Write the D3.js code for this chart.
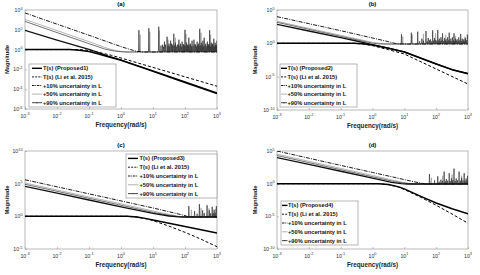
<!DOCTYPE html>
<html><head><meta charset="utf-8">
<script src="https://cdn.jsdelivr.net/npm/d3@7"></script>
<style>body{margin:0;background:#fff}svg{display:block}text{font-family:"Liberation Sans",Arial,sans-serif}</style>
</head><body><svg id="c" width="480" height="275"></svg>
<script>
// ---------- DATA (log10 frequency, log10 magnitude) ----------
const panelTitles = ["(a)", "(b)", "(c)", "(d)"];
const xTickExps = [-3, -2, -1, 0, 1, 2, 3];
const yTickExpsA = [-6, -4, -2, 0, 2, 4];
const yTickExpsB = [-10, -5, 0, 5];
const yTickExpsC = [-5, 0, 5, 10];
const yTickExpsD = [-10, -5, 0, 5];
const legendA = ["T(s) (Proposed1)", "T(s) (Li et al. 2015)", "+10% uncertainty in L", "+50% uncertainty in L", "+90% uncertainty in L"];
const legendB = ["T(s) (Proposed2)", "T(s) (Li et al. 2015)", "+10% uncertainty in L", "+50% uncertainty in L", "+90% uncertainty in L"];
const legendC = ["T(s) (Proposed3)", "T(s) (Li et al. 2015)", "+10% uncertainty in L", "+50% uncertainty in L", "+90% uncertainty in L"];
const legendD = ["T(s) (Proposed4)", "T(s) (Li et al. 2015)", "+10% uncertainty in L", "+50% uncertainty in L", "+90% uncertainty in L"];

// Panel (a)
const propA = [[-3,0],[-1.6,0],[-1.3,-0.06],[-1,-0.2],[-0.7,-0.45],[-0.4,-0.72],[0,-1.08],[1,-2.2],[2,-3.32],[3,-4.45]];
const liA   = [[-3,0],[-1.3,0],[-1,-0.08],[-0.7,-0.28],[-0.3,-0.58],[0,-0.85],[1,-1.8],[2,-2.75],[3,-3.7]];
const loopA = [[-3,1.95],[-2,0.95],[-1.3,0.3],[-1,0.02],[-0.7,-0.3],[-0.4,-0.65],[0,-1.05],[1,-2.15],[2,-3.26],[3,-4.38]];
const unc10A = [[-3,3.7],[-2,2.57],[-1,1.45],[0,0.3],[0.3,0.0],[0.5,-0.18],[0.7,-0.24],[3,-0.24]];
const unc50A = [[-3,3.05],[-2,1.92],[-1,0.8],[-0.4,0.1],[-0.1,-0.15],[0.2,-0.24],[3,-0.24]];
const unc90A = [[-3,2.85],[-2,1.72],[-1,0.6],[-0.5,0.05],[-0.2,-0.15],[0.1,-0.24],[3,-0.24]];
const peaks50A = [[0.6,1.5],[0.9,1.8],[1.2,1.9],[1.47,1.0],[1.7,1.2],[2.03,1.6],[2.5,1.7],[2.8,1.5]];
const peaks90A = [[0.56,1.96],[0.87,2.16],[1.18,2.3],[1.3,0.5],[1.36,0.8],[1.44,1.3],[1.5,0.6],[1.55,0.9],[1.6,0.5],[1.65,1.6],[1.7,0.7],[1.76,0.5],[1.81,1.0],[1.86,0.6],[1.91,0.8],[1.96,0.5],[2.0,2.0],[2.05,0.7],[2.09,0.5],[2.12,1.2],[2.17,0.6],[2.22,0.9],[2.28,1.0],[2.33,0.5],[2.38,0.8],[2.42,0.6],[2.46,2.1],[2.51,0.7],[2.56,0.9],[2.6,1.2],[2.65,0.6],[2.7,0.8],[2.74,0.5],[2.77,1.95],[2.82,0.7],[2.86,0.6],[2.9,1.1],[2.94,0.7],[2.97,0.5],[3.0,0.9],
  [1.25,0.4],[1.33,0.3],[1.39,0.5],[1.47,0.4],[1.52,0.3],[1.58,0.6],[1.62,0.35],[1.68,0.45],[1.73,0.3],[1.79,0.5],[1.84,0.4],[1.89,0.3],[1.94,0.55],[1.98,0.4],[2.03,0.35],[2.07,0.45],[2.11,0.3],[2.15,0.5],[2.2,0.35],[2.25,0.4],[2.31,0.55],[2.36,0.3],[2.4,0.45],[2.44,0.35],[2.49,0.4],[2.54,0.5],[2.58,0.3],[2.63,0.45],[2.68,0.35],[2.72,0.55],[2.76,0.4],[2.8,0.3],[2.84,0.5],[2.88,0.4],[2.92,0.3],[2.96,0.45],[2.99,0.35]];

// Panel (b)
const propB = [[-3,0],[-0.6,0],[-0.3,-0.05],[0,-0.25],[0.5,-0.75],[1,-1.3],[1.5,-2.2],[2,-3.1],[2.5,-3.95],[3,-4.55]];
const liB   = [[-3,0],[-0.6,0],[-0.3,-0.1],[0,-0.35],[0.5,-0.95],[1,-1.6],[2,-3.85],[3,-6.1]];
const loopB = [[-3,2.85],[-2,1.85],[-1,0.85],[-0.5,0.35],[0,-0.2],[0.5,-0.73],[1,-1.28],[1.5,-2.18],[2,-3.08],[2.5,-3.93],[3,-4.53]];
const unc10B = [[-3,4.0],[-2,2.95],[-1,1.9],[0,0.8],[0.5,0.25],[0.7,0.0],[0.85,-0.1],[3,-0.1]];
const unc50B = [[-3,3.3],[-2,2.25],[-1,1.2],[0,0.15],[0.3,-0.05],[0.5,-0.1],[3,-0.1]];
const unc90B = [[-3,3.15],[-2,2.1],[-1,1.05],[0,0.02],[0.2,-0.08],[0.4,-0.1],[3,-0.1]];
const peaks50B = [[0.95,1.0],[1.25,1.3],[1.6,1.4],[1.98,1.5],[2.3,1.2],[2.6,1.1],[2.9,1.0]];
const peaks90B = [[0.91,1.35],[1.22,1.6],[1.42,1.75],[1.55,0.7],[1.68,1.85],[1.75,0.8],[1.82,0.6],[1.89,1.95],[1.95,0.8],[2.05,2.0],[2.1,0.7],[2.15,0.9],[2.2,1.5],[2.26,0.8],[2.31,0.6],[2.36,0.9],[2.41,1.6],[2.46,0.7],[2.51,0.9],[2.56,1.5],[2.61,0.7],[2.66,0.6],[2.71,0.9],[2.77,1.4],[2.82,0.7],[2.87,0.6],[2.92,0.8],[2.98,1.3],
  [1.48,0.3],[1.6,0.4],[1.72,0.3],[1.79,0.45],[1.86,0.3],[1.92,0.4],[1.99,0.5],[2.02,0.3],[2.08,0.4],[2.13,0.3],[2.18,0.45],[2.23,0.35],[2.29,0.4],[2.34,0.3],[2.39,0.45],[2.44,0.35],[2.49,0.3],[2.54,0.45],[2.59,0.35],[2.64,0.4],[2.69,0.3],[2.74,0.45],[2.8,0.35],[2.85,0.4],[2.9,0.3],[2.95,0.45]];

// Panel (c)
const propC = [[-3,0],[0.2,0],[0.5,-0.1],[0.8,-0.35],[1,-0.55],[1.5,-1.05],[2,-1.55],[2.5,-2.05],[3,-2.55]];
const liC   = [[-3,0],[0.2,0],[0.5,-0.12],[0.8,-0.4],[1,-0.65],[1.5,-1.5],[2,-2.45],[2.5,-3.5],[3,-4.65]];
const loopC = [[-3,4.6],[-2,3.55],[-1,2.5],[0,1.45],[1,0.45],[1.5,0.05],[1.8,-0.08],[2.0,-0.1],[3,-0.1]];
const unc10C = [[-3,5.6],[-2,4.52],[-1,3.44],[0,2.36],[1,1.28],[1.5,0.7],[1.8,0.35],[2.0,0.12],[2.1,-0.1],[3,-0.1]];
const unc50C = [[-3,5.1],[-2,4.03],[-1,2.96],[0,1.9],[1,0.82],[1.5,0.3],[1.8,0.0],[2.0,-0.1],[3,-0.1]];
const unc90C = [[-3,4.9],[-2,3.83],[-1,2.76],[0,1.7],[1,0.62],[1.5,0.15],[1.8,-0.05],[1.95,-0.1],[3,-0.1]];
const peaks50C = [[2.2,1.0],[2.5,1.3],[2.75,1.2],[2.95,1.1]];
const peaks90C = [[2.12,1.56],[2.3,0.8],[2.45,1.85],[2.55,0.9],[2.69,1.7],[2.76,0.9],[2.85,1.46],[2.91,1.0],[2.98,1.55],
  [2.38,0.4],[2.6,0.5],[2.8,0.45],[2.88,0.5],[2.94,0.55]];

// Panel (d)
const propD = [[-3,0],[0.2,0],[0.5,-0.12],[0.8,-0.45],[1,-0.8],[1.5,-1.9],[2,-2.95],[2.5,-3.85],[3,-4.6]];
const liD   = [[-3,0],[0.2,0],[0.5,-0.15],[0.8,-0.5],[1,-0.9],[1.5,-2.05],[2,-3.3],[2.5,-4.65],[3,-6.05]];
const loopD = [[-3,4.0],[-2,2.95],[-1,1.9],[0,0.85],[0.6,0.2],[0.9,0.0],[1.1,-0.05],[3,-0.05]];
const unc10D = [[-3,5.0],[-2,3.9],[-1,2.8],[0,1.72],[1,0.62],[1.3,0.3],[1.5,0.1],[1.65,-0.05],[3,-0.05]];
const unc50D = [[-3,4.5],[-2,3.42],[-1,2.34],[0,1.26],[0.8,0.35],[1.2,0.0],[1.4,-0.05],[3,-0.05]];
const unc90D = [[-3,4.3],[-2,3.22],[-1,2.14],[0,1.06],[0.7,0.3],[1.1,0.0],[1.3,-0.05],[3,-0.05]];
const peaks50D = [[1.85,0.9],[2.2,1.2],[2.5,1.4],[2.8,1.2]];
const peaks90D = [[1.79,1.46],[1.95,0.5],[2.05,1.12],[2.15,0.6],[2.25,1.85],[2.32,0.7],[2.41,1.6],[2.48,0.8],[2.56,2.3],[2.63,0.8],[2.72,1.85],[2.8,0.9],[2.88,1.6],[2.94,0.8],[2.99,1.2],
  [2.1,0.3],[2.2,0.4],[2.29,0.35],[2.36,0.45],[2.44,0.4],[2.52,0.5],[2.6,0.4],[2.67,0.5],[2.76,0.45],[2.84,0.5],[2.91,0.4],[2.97,0.5]];

// ---------- LAYOUT ----------
const panels = [
  {title:panelTitles[0], L:25, R:217, T:10, B:109, yDom:[-6,4], yTicks:yTickExpsA, labels:legendA,
   curves:{prop:propA, li:liA, loop:loopA, u10:unc10A, u50:unc50A, u90:unc90A}, p50:peaks50A, p90:peaks90A,
   leg:{x:29, y:64, w:87, h:43, s0:3, s1:13, tx:14}, magX:9},
  {title:panelTitles[1], L:277, R:468, T:10, B:110, yDom:[-10,5], yTicks:yTickExpsB, labels:legendB,
   curves:{prop:propB, li:liB, loop:loopB, u10:unc10B, u50:unc50B, u90:unc90B}, p50:peaks50B, p90:peaks90B,
   leg:{x:280, y:64, w:77, h:43, s0:1, s1:7, tx:7.5}, magX:257},
  {title:panelTitles[2], L:25, R:217, T:151, B:249, yDom:[-5,10], yTicks:yTickExpsC, labels:legendC,
   curves:{prop:propC, li:liC, loop:loopC, u10:unc10C, u50:unc50C, u90:unc90C}, p50:peaks50C, p90:peaks90C,
   leg:{x:126, y:154, w:91, h:44, s0:2, s1:12, tx:13.5}, magX:9},
  {title:panelTitles[3], L:277, R:468, T:151, B:249, yDom:[-10,5], yTicks:yTickExpsD, labels:legendD,
   curves:{prop:propD, li:liD, loop:loopD, u10:unc10D, u50:unc50D, u90:unc90D}, p50:peaks50D, p90:peaks90D,
   leg:{x:281, y:201, w:77, h:44, s0:1, s1:6.5, tx:7}, magX:257}
];

const styles = {
  prop:{stroke:"#000", w:1.5, dash:null},
  li:{stroke:"#000", w:1, dash:"3,2"},
  u10:{stroke:"#000", w:0.9, dash:"4,1.2,1,1.2"},
  u50:{stroke:"#aaa", w:0.9, dash:null},
  u90:{stroke:"#333", w:0.7, dash:null},
  loop:{stroke:"#111", w:1.3, dash:null}
};

const svg = d3.select("#c");

function spiky(curve, peaks, w){
  const base = curve[curve.length-1][1];
  const out = curve.slice(0, -1);
  peaks.slice().sort((a, b) => a[0] - b[0]).forEach(([f, m]) => {
    out.push([f - w, base], [f - w*0.3, (m + base) / 2], [f, m], [f + w*0.3, (m + base) / 2], [f + w, base]);
  });
  out.push(curve[curve.length-1]);
  return out;
}

function supLabel(sel, e){
  sel.append("tspan").text("10");
  sel.append("tspan").attr("dy", -2.2).attr("font-size", 3.8).text(e);
}

panels.forEach((p, i) => {
  const x = d3.scaleLog().domain([1e-3, 1e3]).range([p.L, p.R]);
  const y = d3.scaleLog().domain([Math.pow(10, p.yDom[0]), Math.pow(10, p.yDom[1])]).range([p.B, p.T]);
  const g = svg.append("g");
  const cid = "clip" + i;
  svg.append("clipPath").attr("id", cid).append("rect").attr("x", p.L).attr("y", p.T).attr("width", p.R - p.L).attr("height", p.B - p.T);

  g.append("rect").attr("x", p.L).attr("y", p.T).attr("width", p.R - p.L).attr("height", p.B - p.T)
    .attr("fill", "#fff").attr("stroke", "#9a9a9a").attr("stroke-width", 0.7);

  const xAxis = d3.axisBottom(x).tickValues(xTickExps.map(e => Math.pow(10, e))).tickSize(-2).tickFormat("");
  const yAxis = d3.axisLeft(y).tickValues(p.yTicks.map(e => Math.pow(10, e))).tickSize(-2).tickFormat("");
  const gx = g.append("g").attr("transform", `translate(0,${p.B})`).call(xAxis);
  const gy = g.append("g").attr("transform", `translate(${p.L},0)`).call(yAxis);
  [gx, gy].forEach(a => { a.select(".domain").remove(); a.selectAll("line").attr("stroke", "#9a9a9a").attr("stroke-width", 0.6); });

  xTickExps.forEach(e => {
    const t = g.append("text").attr("x", x(Math.pow(10, e))).attr("y", p.B + 8.5).attr("text-anchor", "middle")
      .attr("font-size", 5.2).attr("fill", "#333");
    supLabel(t, e);
  });
  p.yTicks.forEach(e => {
    const t = g.append("text").attr("x", p.L - 2.5).attr("y", y(Math.pow(10, e)) + 2).attr("text-anchor", "end")
      .attr("font-size", 5.2).attr("fill", "#333");
    supLabel(t, e);
  });

  const line = d3.line().x(d => x(Math.pow(10, d[0]))).y(d => y(Math.pow(10, d[1])));
  const cg = g.append("g").attr("clip-path", `url(#${cid})`);
  const order = ["u50", "u90", "u10", "loop", "li", "prop"];
  order.forEach(k => {
    let data = p.curves[k];
    if (k === "u50") data = spiky(data, p.p50, 0.012);
    if (k === "u90") data = spiky(data, p.p90, 0.012);
    const s = styles[k];
    cg.append("path").attr("d", line(data)).attr("fill", "none").attr("stroke", s.stroke)
      .attr("stroke-width", s.w).attr("stroke-dasharray", s.dash).attr("stroke-linejoin", "round");
  });

  g.append("text").attr("x", (p.L + p.R) / 2).attr("y", p.T - 4).attr("text-anchor", "middle")
    .attr("font-size", 6).attr("font-weight", "bold").text(p.title);
  g.append("text").attr("x", (p.L + p.R) / 2).attr("y", p.B + 17.5).attr("text-anchor", "middle")
    .attr("font-size", 6.3).attr("font-weight", "bold").attr("fill", "#222").text("Frequency(rad/s)");
  g.append("text").attr("transform", `translate(${p.magX},${(p.T + p.B) / 2}) rotate(-90)`).attr("text-anchor", "middle")
    .attr("font-size", 5.8).attr("font-weight", "bold").attr("fill", "#222").text("Magnitude");

  const L = p.leg;
  const lg = g.append("g");
  lg.append("rect").attr("x", L.x).attr("y", L.y).attr("width", L.w).attr("height", L.h)
    .attr("fill", "#fff").attr("stroke", "#888").attr("stroke-width", 0.6);
  const keys = ["prop", "li", "u10", "u50", "u90"];
  const rowH = L.h / 5;
  keys.forEach((k, j) => {
    const yy = L.y + rowH * (j + 0.5);
    const s = styles[k];
    lg.append("line").attr("x1", L.x + L.s0).attr("x2", L.x + L.s1).attr("y1", yy).attr("y2", yy)
      .attr("stroke", s.stroke).attr("stroke-width", k === "prop" ? 1.4 : 0.9).attr("stroke-dasharray", k === "u10" ? "2.5,0.8,0.8,0.8" : (k === "li" ? "2,1.2" : null));
    if (k === "u90") lg.append("circle").attr("cx", L.x + (L.s0 + L.s1) / 2).attr("cy", yy).attr("r", 0.7).attr("fill", "#444");
    lg.append("text").attr("x", L.x + L.tx).attr("y", yy + 2).attr("font-size", 5.7).attr("font-weight", "bold")
      .attr("fill", "#111").text(p.labels[j]);
  });
});
</script></body></html>
